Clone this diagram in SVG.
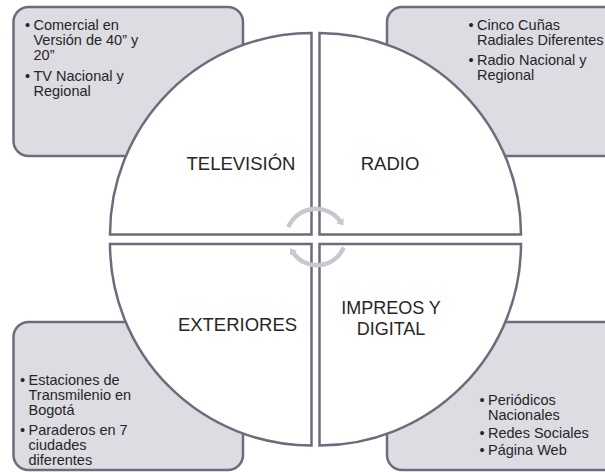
<svg xmlns="http://www.w3.org/2000/svg" width="605" height="472" viewBox="0 0 605 472">
<style>
.box{fill:#dcdce2;stroke:#6c6c7c;stroke-width:2.5}
.quad{fill:#ffffff;stroke:#6c6c7c;stroke-width:2.5}
.lbl{font-family:"Liberation Sans",Arial,sans-serif;font-size:18.5px;fill:#262626;text-anchor:middle}
.txt{font-family:"Liberation Sans",Arial,sans-serif;font-size:14.5px;fill:#262626}
.arr{fill:none;stroke:#c8c8ce;stroke-width:4.5}
</style>
<defs>
<marker id="ah" markerUnits="userSpaceOnUse" markerWidth="12" markerHeight="12" refX="1" refY="6" orient="auto">
<path d="M0,1.5 L6,6 L0,10.5 Z" fill="#c8c8ce"/>
</marker>
</defs>
<rect width="605" height="472" fill="#ffffff"/>
<g id="box-tv">
<rect class="box" x="13.5" y="7" width="229.5" height="149" rx="15"/>
<text class="txt" x="25" y="30">•</text>
<text class="txt" x="33.5" y="30">Comercial en</text>
<text class="txt" x="33.5" y="45">Versión de 40” y</text>
<text class="txt" x="33.5" y="60">20”</text>
<text class="txt" x="25" y="81">•</text>
<text class="txt" x="33.5" y="81">TV Nacional y</text>
<text class="txt" x="33.5" y="96">Regional</text>
</g>
<g id="box-radio">
<rect class="box" x="387" y="7" width="250" height="149" rx="15"/>
<text class="txt" x="468.5" y="30">•</text>
<text class="txt" x="477" y="30">Cinco Cuñas</text>
<text class="txt" x="477" y="45">Radiales Diferentes</text>
<text class="txt" x="468.5" y="65">•</text>
<text class="txt" x="477" y="65">Radio Nacional y</text>
<text class="txt" x="477" y="80">Regional</text>
</g>
<g id="box-ext">
<rect class="box" x="13.5" y="322" width="229.5" height="148" rx="15"/>
<text class="txt" x="20" y="385">•</text>
<text class="txt" x="28.5" y="385">Estaciones de</text>
<text class="txt" x="28.5" y="400">Transmilenio en</text>
<text class="txt" x="28.5" y="415">Bogotá</text>
<text class="txt" x="20" y="435">•</text>
<text class="txt" x="28.5" y="435">Paraderos en 7</text>
<text class="txt" x="28.5" y="450">ciudades</text>
<text class="txt" x="28.5" y="465">diferentes</text>
</g>
<g id="box-imp">
<rect class="box" x="387" y="322" width="250" height="148" rx="15"/>
<text class="txt" x="479.5" y="405">•</text>
<text class="txt" x="488" y="405">Periódicos</text>
<text class="txt" x="488" y="420">Nacionales</text>
<text class="txt" x="479.5" y="437.5">•</text>
<text class="txt" x="488" y="437.5">Redes Sociales</text>
<text class="txt" x="479.5" y="455">•</text>
<text class="txt" x="488" y="455">Página Web</text>
</g>
<g id="q-tv">
<path class="quad" d="M311.5,234.5 L110,234.5 A201.5,201.5 0 0 1 311.5,33 Z"/>
<text class="lbl" x="241" y="170">TELEVISIÓN</text>
</g>
<g id="q-radio">
<path class="quad" d="M319.5,234.5 L319.5,33 A201.5,201.5 0 0 1 521,234.5 Z"/>
<text class="lbl" x="390" y="170">RADIO</text>
</g>
<g id="q-ext">
<path class="quad" d="M311.5,244 L311.5,445.5 A201.5,201.5 0 0 1 110,244 Z"/>
<text class="lbl" x="237.5" y="331">EXTERIORES</text>
</g>
<g id="q-imp">
<path class="quad" d="M319.5,244 L521,244 A201.5,201.5 0 0 1 319.5,445.5 Z"/>
<text class="lbl" x="391" y="314" style="font-size:18px">IMPREOS Y</text>
<text class="lbl" x="391" y="335" style="font-size:18px">DIGITAL</text>
</g>
<g id="connectors">
<path class="arr" d="M288.3,227.2 A30,30 0 0 1 340.5,221.5" marker-end="url(#ah)"/>
<path class="arr" d="M343.75,247.4 A29,29 0 0 1 293,252.5" marker-end="url(#ah)"/>
</g>
</svg>
